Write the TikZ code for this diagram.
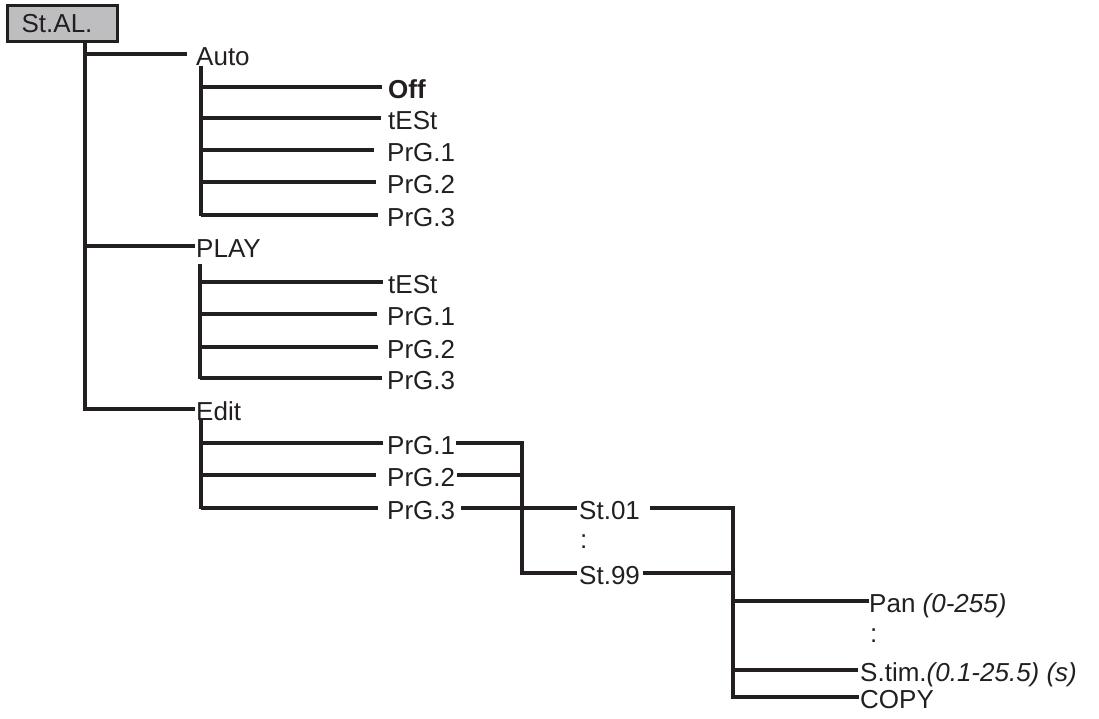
\documentclass[tikz,border=0pt]{standalone}
\usepackage{fontspec}
\setmainfont{Liberation Sans}
\definecolor{ink}{HTML}{231F20}
\definecolor{boxgray}{RGB}{190,190,193}
\begin{document}
\begin{tikzpicture}[x=1pt,y=-1pt,
  lbl/.style={anchor=west, inner sep=0pt, text height=22pt, text depth=0pt,
              font=\fontsize{26}{30}\selectfont, text=ink},
  conn/.style={draw=ink, line width=3.3pt, line cap=butt}]
\useasboundingbox (0,0) rectangle (1099,718);

% root box
\node[draw=ink, fill=boxgray, line width=3.3pt, anchor=north west,
      minimum width=110pt, minimum height=36pt, inner xsep=14pt, inner ysep=0pt,
      text width=82pt, align=left, font=\fontsize{26}{30}\selectfont, text=ink]
      (stal) at (6,4) {St.AL.};

% first level
\node[lbl] (auto) at (196,54) {Auto};
\node[lbl] (play) at (196,246) {PLAY};
\node[lbl] (edit) at (196,409) {Edit};

% Auto children
\node[lbl] (aoff)  at (388,87)  {\bfseries Off};
\node[lbl] (atest) at (388,118) {tESt};
\node[lbl] (ap1)   at (387,150) {PrG.1};
\node[lbl] (ap2)   at (387,182) {PrG.2};
\node[lbl] (ap3)   at (387,215) {PrG.3};

% PLAY children
\node[lbl] (ptest) at (388,282) {tESt};
\node[lbl] (pp1)   at (387,314) {PrG.1};
\node[lbl] (pp2)   at (387,347) {PrG.2};
\node[lbl] (pp3)   at (387,378) {PrG.3};

% Edit children
\node[lbl] (ep1) at (387,443) {PrG.1};
\node[lbl] (ep2) at (387,475) {PrG.2};
\node[lbl] (ep3) at (387,508) {PrG.3};

% steps
\node[lbl] (st01)  at (579,508) {St.01};
\node[lbl] (sdots) at (580,537) {:};
\node[lbl] (st99)  at (579,573) {St.99};

% step parameters
\node[lbl] (pan)   at (869,601) {Pan \textit{(0-255)}};
\node[lbl] (pdots) at (870,631) {:};
\node[lbl] (stim)  at (860,670) {S.tim.\textit{(0.1-25.5) (s)}};
\node[lbl] (copy)  at (860,697) {COPY};

% junction coordinates
\coordinate (t0) at (85,41);
\coordinate (t1) at (85,411);
\coordinate (a0) at (201,66);
\coordinate (a1) at (201,216);
\coordinate (p0) at (200,264);
\coordinate (p1) at (200,379);
\coordinate (e0) at (201,420);
\coordinate (e1) at (201,509);
\coordinate (j1) at (522,446);
\coordinate (k1) at (733,510);

% trunk
\draw[conn] (stal.south -| t0) -- (t1);
\draw[conn] (t0 |- auto.west) -- ([xshift=-9pt]auto.west);
\draw[conn] (t0 |- play.west) -- ([xshift=-1pt]play.west);
\draw[conn] (t0 |- edit.west) -- ([xshift=-1pt]edit.west);

% Auto branch
\draw[conn] (a0) -- (a1);
\draw[conn] (a0 |- aoff.west)  -- ([xshift=-6pt]aoff.west);
\draw[conn] (a0 |- atest.west) -- ([xshift=-7pt]atest.west);
\draw[conn] (a0 |- ap1.west)   -- ([xshift=-13pt]ap1.west);
\draw[conn] (a0 |- ap2.west)   -- ([xshift=-11pt]ap2.west);
\draw[conn] (a0 |- ap3.west)   -- ([xshift=-9pt]ap3.west);

% PLAY branch
\draw[conn] (p0) -- (p1);
\draw[conn] (p0 |- ptest.west) -- ([xshift=-5pt]ptest.west);
\draw[conn] (p0 |- pp1.west)   -- ([xshift=-10pt]pp1.west);
\draw[conn] (p0 |- pp2.west)   -- ([xshift=-9pt]pp2.west);
\draw[conn] (p0 |- pp3.west)   -- ([xshift=-5pt]pp3.west);

% Edit branch
\draw[conn] (e0) -- (e1);
\draw[conn] (e0 |- ep1.west) -- ([xshift=-4pt]ep1.west);
\draw[conn] (e0 |- ep2.west) -- ([xshift=-11pt]ep2.west);
\draw[conn] (e0 |- ep3.west) -- ([xshift=-9pt]ep3.west);

% programs to steps
\draw[conn] ([xshift=1pt]ep1.east) -- (ep1.east -| j1) -- (j1 |- st99.west) -- ([xshift=-2pt]st99.west);
\draw[conn] ([xshift=2pt]ep2.east) -- (ep2.east -| j1);
\draw[conn] ([xshift=6pt]ep3.east) -- ([xshift=-2pt]st01.west);

% steps to parameters
\draw[conn] ([xshift=10pt]st01.east) -- (st01.east -| k1) -- (k1 |- copy.west) -- ([xshift=-1pt]copy.west);
\draw[conn] ([xshift=3pt]st99.east) -- (st99.east -| k1);
\draw[conn] (k1 |- pan.west)  -- (pan.west);
\draw[conn] (k1 |- stim.west) -- ([xshift=-2pt]stim.west);
\end{tikzpicture}
\end{document}
